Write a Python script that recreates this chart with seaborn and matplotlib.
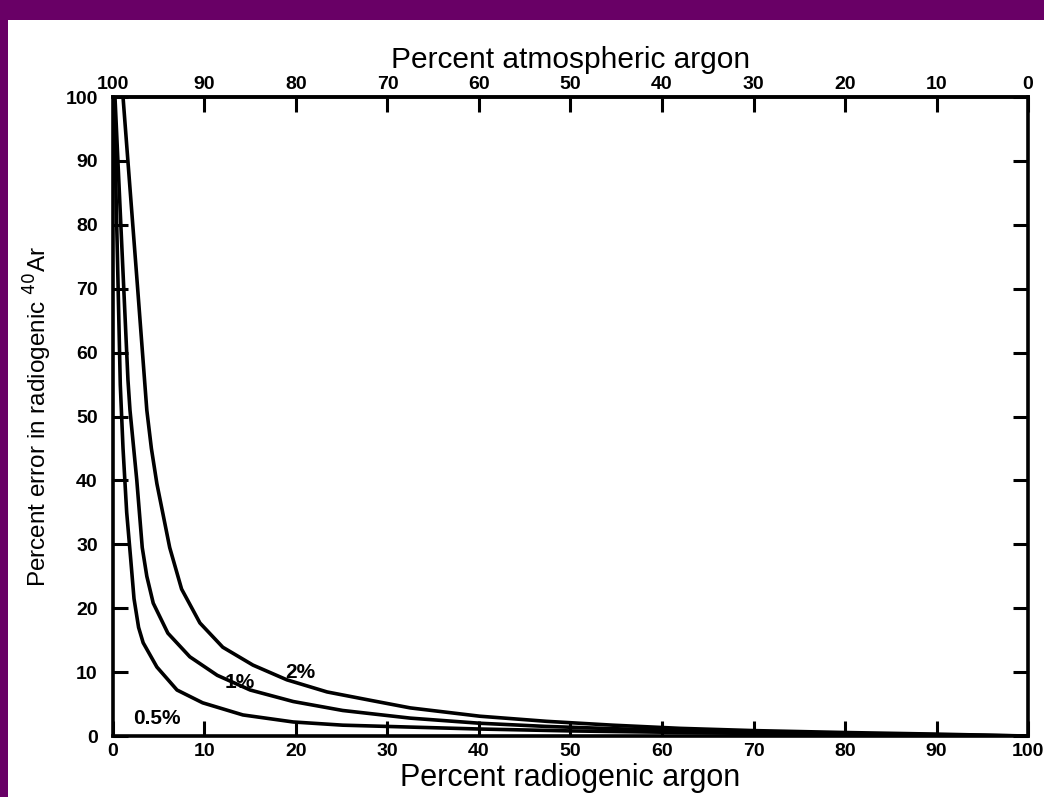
import pandas as pd
import seaborn as sns
import matplotlib.pyplot as plt
from matplotlib.patches import Rectangle

# ==========================================
# DATA
# ==========================================
# x = percent radiogenic argon, y = percent error in radiogenic 40Ar
X_HALF = [0.1, 0.8, 1.1, 1.5, 1.95, 2.3, 2.8, 3.3, 4.8, 7.0, 9.8, 14.2, 19.7, 25.1, 32.5,
          40, 50, 60, 70, 80, 90, 100]
Y_HALF = [100, 55.0, 45.0, 35.0, 27.5, 21.5, 17.0, 14.6, 10.8, 7.2, 5.2, 3.3, 2.2, 1.7, 1.4,
          1.1, 0.8, 0.6, 0.4, 0.25, 0.12, 0.0]

X_ONE = [0.22, 1.64, 1.86, 2.6, 3.2, 3.7, 4.4, 6.0, 8.4, 11.4, 15.0, 19.7, 25.1, 32.5,
         40.1, 47.4, 54.6, 60, 70, 80, 90, 100]
Y_ONE = [100, 55.7, 51.0, 40.1, 29.5, 25.0, 20.8, 16.1, 12.4, 9.5, 7.2, 5.4, 4.0, 2.8,
         2.0, 1.5, 1.15, 0.95, 0.65, 0.4, 0.2, 0.0]

X_TWO = [1.1, 2.15, 2.7, 3.7, 4.2, 4.8, 6.2, 7.5, 9.5, 12.0, 15.3, 19.0, 23.4, 28.1,
         32.5, 40.1, 47.4, 54.6, 62.0, 70, 80, 90, 100]
Y_TWO = [100, 80.3, 70.0, 51.0, 45.0, 39.5, 29.5, 23.0, 17.7, 13.9, 11.1, 8.8, 6.9, 5.6,
         4.4, 3.1, 2.3, 1.7, 1.2, 0.85, 0.55, 0.3, 0.0]

CURVE_LABELS = ["0.5%", "1%", "2%"]
BOTTOM_TICKS = [0, 10, 20, 30, 40, 50, 60, 70, 80, 90, 100]
LEFT_TICKS = [0, 10, 20, 30, 40, 50, 60, 70, 80, 90, 100]

PURPLE = "#690066"


def build_frame():
    parts = []
    for label, xs, ys in zip(CURVE_LABELS, [X_HALF, X_ONE, X_TWO], [Y_HALF, Y_ONE, Y_TWO]):
        parts.append(pd.DataFrame({"radiogenic": xs, "error": ys, "curve": label}))
    return pd.concat(parts, ignore_index=True)


def make_plot():
    sns.set_theme(style="ticks")
    plt.rcParams['font.family'] = ['Liberation Sans', 'DejaVu Sans']
    plt.rcParams['text.color'] = 'black'
    plt.rcParams['axes.labelcolor'] = 'black'

    fig = plt.figure(figsize=(10.44, 7.97), dpi=100)
    fig.patch.set_facecolor("white")
    # purple frame: left strip and top strip
    fig.patches.append(Rectangle((0, 0), 8 / 1044, 1, transform=fig.transFigure,
                                 facecolor=PURPLE, edgecolor="none"))
    fig.patches.append(Rectangle((0, 1 - 20 / 797), 1, 20 / 797, transform=fig.transFigure,
                                 facecolor=PURPLE, edgecolor="none"))

    ax = fig.add_axes([0.1082, 0.0765, 0.8765, 0.8017])
    ax.set_facecolor("white")

    df = build_frame()
    sns.lineplot(data=df, x="radiogenic", y="error", hue="curve",
                 palette=["black"] * 3, linewidth=2.6, legend=False,
                 estimator=None, sort=True, ax=ax)

    ax.set_xlim(0, 100)
    ax.set_ylim(0, 100)
    ax.set_xticks(BOTTOM_TICKS)
    ax.set_yticks(LEFT_TICKS)

    tick_font = dict(fontsize=14, fontweight="bold", color="black")
    ax.set_xticklabels([str(t) for t in BOTTOM_TICKS], **tick_font)
    ax.set_yticklabels([str(t) for t in LEFT_TICKS], **tick_font)
    ax.tick_params(axis="both", direction="in", length=11, width=2.2, colors="black")
    ax.tick_params(axis="y", right=True, pad=11)
    ax.tick_params(axis="x", pad=5)

    for s in ax.spines.values():
        s.set_linewidth(2.6)
        s.set_color("black")

    # top axis: percent atmospheric argon = 100 - radiogenic
    top = ax.secondary_xaxis("top", functions=(lambda v: 100 - v, lambda v: 100 - v))
    top.set_xticks(BOTTOM_TICKS)
    top.set_xticklabels([str(t) for t in BOTTOM_TICKS], **tick_font)
    top.tick_params(direction="in", length=11, width=2.2, pad=3, colors="black")
    top.spines["top"].set_linewidth(2.6)
    top.set_xlabel("Percent atmospheric argon", fontsize=21.5, labelpad=6, color="black")

    ax.set_xlabel("Percent radiogenic argon", fontsize=22, labelpad=2, color="black")
    ax.set_ylabel("Percent error in radiogenic $^{40}$Ar", fontsize=17.5, labelpad=8,
                  color="black")

    # curve labels
    lab = dict(fontsize=15, fontweight="bold", va="center", color="black")
    ax.text(2.2, 2.8, "0.5%", **lab)
    ax.text(12.2, 8.3, "1%", **lab)
    ax.text(18.8, 10.0, "2%", **lab)

    fig.savefig("out.png", dpi=100, facecolor=fig.get_facecolor())


if __name__ == "__main__":
    make_plot()
